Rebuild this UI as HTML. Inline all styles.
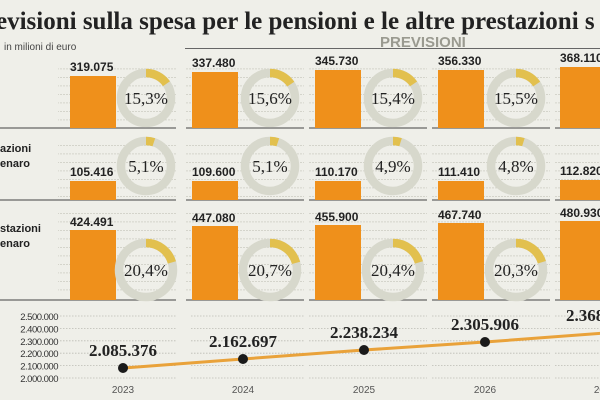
<!DOCTYPE html>
<html><head><meta charset="utf-8"><style>
html,body{margin:0;padding:0;background:#efefe9;}
svg{display:block}
.v{font-size:12px;font-weight:bold;fill:#222}
.p{font-size:17px;font-family:"Liberation Serif",serif;fill:#222;text-anchor:middle}
.g{fill:none;stroke:#d7d8cc;stroke-width:8.5}
.y{fill:none;stroke:#e2c04e;stroke-width:8.5}
.b{fill:#ef901b}
.bl{stroke:#666;stroke-width:1.2}
.yl{font-size:9.5px;fill:#333;text-anchor:end;letter-spacing:-0.5px}
.lv{font-size:17px;font-weight:bold;font-family:"Liberation Serif",serif;fill:#222;text-anchor:middle}
.yr{font-size:10px;fill:#555;text-anchor:middle}
</style></head><body>
<svg width="600" height="400" xmlns="http://www.w3.org/2000/svg" font-family="Liberation Sans, sans-serif">
<defs>
<pattern id="gp" patternUnits="userSpaceOnUse" x="0" y="0.5" width="3" height="8.5"><rect x="0" y="0" width="2" height="0.8" fill="#cdcdc4"/></pattern>
</defs>
<rect width="600" height="400" fill="#efefe9"/>
<text x="-4" y="29" font-family="Liberation Serif, serif" font-weight="bold" font-size="25" fill="#222">evisioni sulla spesa per le pensioni e le altre prestazioni s</text>
<line x1="185" y1="48.5" x2="600" y2="48.5" stroke="#666" stroke-width="1"/>
<text x="380" y="47" font-weight="bold" font-size="15" fill="#9a9a90">PREVISIONI</text>
<text x="4" y="50" font-size="10" fill="#444">in milioni di euro</text>
<text x="0" y="152" font-size="11" font-weight="bold" fill="#222">azioni</text>
<text x="0" y="167" font-size="11" font-weight="bold" fill="#222">enaro</text>
<text x="0" y="232" font-size="11" font-weight="bold" fill="#222">stazioni</text>
<text x="0" y="247" font-size="11" font-weight="bold" fill="#222">enaro</text>

<g fill="url(#gp)">
<rect x="58" y="62" width="118" height="64"/><rect x="186" y="62" width="118" height="64"/><rect x="309" y="62" width="118" height="64"/><rect x="432" y="62" width="118" height="64"/><rect x="555" y="62" width="45" height="64"/>
<rect x="58" y="138" width="118" height="60"/><rect x="186" y="138" width="118" height="60"/><rect x="309" y="138" width="118" height="60"/><rect x="432" y="138" width="118" height="60"/><rect x="555" y="138" width="45" height="60"/>
<rect x="58" y="210" width="118" height="88"/><rect x="186" y="210" width="118" height="88"/><rect x="309" y="210" width="118" height="88"/><rect x="432" y="210" width="118" height="88"/><rect x="555" y="210" width="45" height="88"/>
</g>
<g class="bl">
<line x1="0" x2="176" y1="128" y2="128"/><line x1="186" x2="304" y1="128" y2="128"/><line x1="309" x2="427" y1="128" y2="128"/><line x1="432" x2="550" y1="128" y2="128"/><line x1="555" x2="600" y1="128" y2="128"/>
<line x1="0" x2="176" y1="200" y2="200"/><line x1="186" x2="304" y1="200" y2="200"/><line x1="309" x2="427" y1="200" y2="200"/><line x1="432" x2="550" y1="200" y2="200"/><line x1="555" x2="600" y1="200" y2="200"/>
<line x1="0" x2="176" y1="300" y2="300"/><line x1="186" x2="304" y1="300" y2="300"/><line x1="309" x2="427" y1="300" y2="300"/><line x1="432" x2="550" y1="300" y2="300"/><line x1="555" x2="600" y1="300" y2="300"/>
</g>

<rect class="b" x="70" y="76" width="46" height="52"/><text class="v" x="70" y="71">319.075</text>
<rect class="b" x="192" y="72" width="46" height="56"/><text class="v" x="192" y="67">337.480</text>
<rect class="b" x="315" y="70" width="46" height="58"/><text class="v" x="315" y="65">345.730</text>
<rect class="b" x="438" y="70" width="46" height="58"/><text class="v" x="438" y="65">356.330</text>
<rect class="b" x="560" y="67" width="46" height="61"/><text class="v" x="560" y="62">368.110</text>
<circle class="g" cx="146" cy="98" r="25"/><circle class="y" cx="146" cy="98" r="25" stroke-dasharray="24.03 200" transform="rotate(-90 146 98)"/><text class="p" x="146" y="104">15,3%</text>
<circle class="g" cx="270" cy="98" r="25"/><circle class="y" cx="270" cy="98" r="25" stroke-dasharray="24.5 200" transform="rotate(-90 270 98)"/><text class="p" x="270" y="104">15,6%</text>
<circle class="g" cx="393" cy="98" r="25"/><circle class="y" cx="393" cy="98" r="25" stroke-dasharray="24.19 200" transform="rotate(-90 393 98)"/><text class="p" x="393" y="104">15,4%</text>
<circle class="g" cx="516" cy="98" r="25"/><circle class="y" cx="516" cy="98" r="25" stroke-dasharray="24.35 200" transform="rotate(-90 516 98)"/><text class="p" x="516" y="104">15,5%</text>

<rect class="b" x="70" y="181" width="46" height="19"/><text class="v" x="70" y="176">105.416</text>
<rect class="b" x="192" y="181" width="46" height="19"/><text class="v" x="192" y="176">109.600</text>
<rect class="b" x="315" y="181" width="46" height="19"/><text class="v" x="315" y="176">110.170</text>
<rect class="b" x="438" y="181" width="46" height="19"/><text class="v" x="438" y="176">111.410</text>
<rect class="b" x="560" y="180" width="46" height="20"/><text class="v" x="560" y="175">112.820</text>
<circle class="g" cx="146" cy="166" r="25"/><circle class="y" cx="146" cy="166" r="25" stroke-dasharray="8.01 200" transform="rotate(-90 146 166)"/><text class="p" x="146" y="172">5,1%</text>
<circle class="g" cx="270" cy="166" r="25"/><circle class="y" cx="270" cy="166" r="25" stroke-dasharray="8.01 200" transform="rotate(-90 270 166)"/><text class="p" x="270" y="172">5,1%</text>
<circle class="g" cx="393" cy="166" r="25"/><circle class="y" cx="393" cy="166" r="25" stroke-dasharray="7.7 200" transform="rotate(-90 393 166)"/><text class="p" x="393" y="172">4,9%</text>
<circle class="g" cx="516" cy="166" r="25"/><circle class="y" cx="516" cy="166" r="25" stroke-dasharray="7.54 200" transform="rotate(-90 516 166)"/><text class="p" x="516" y="172">4,8%</text>

<rect class="b" x="70" y="230" width="46" height="70"/><text class="v" x="70" y="226">424.491</text>
<rect class="b" x="192" y="226" width="46" height="74"/><text class="v" x="192" y="222">447.080</text>
<rect class="b" x="315" y="225" width="46" height="75"/><text class="v" x="315" y="221">455.900</text>
<rect class="b" x="438" y="223" width="46" height="77"/><text class="v" x="438" y="219">467.740</text>
<rect class="b" x="560" y="221" width="46" height="79"/><text class="v" x="560" y="217">480.930</text>
<circle class="g" cx="146" cy="270" r="27"/><circle class="y" cx="146" cy="270" r="27" stroke-dasharray="34.61 200" transform="rotate(-90 146 270)"/><text class="p" x="146" y="276">20,4%</text>
<circle class="g" cx="270" cy="270" r="27"/><circle class="y" cx="270" cy="270" r="27" stroke-dasharray="35.12 200" transform="rotate(-90 270 270)"/><text class="p" x="270" y="276">20,7%</text>
<circle class="g" cx="393" cy="270" r="27"/><circle class="y" cx="393" cy="270" r="27" stroke-dasharray="34.61 200" transform="rotate(-90 393 270)"/><text class="p" x="393" y="276">20,4%</text>
<circle class="g" cx="516" cy="270" r="27"/><circle class="y" cx="516" cy="270" r="27" stroke-dasharray="34.44 200" transform="rotate(-90 516 270)"/><text class="p" x="516" y="276">20,3%</text>

<g class="yl">
<text x="58" y="320">2.500.000</text><text x="58" y="332.4">2.400.000</text><text x="58" y="344.8">2.300.000</text><text x="58" y="357.2">2.200.000</text><text x="58" y="369.6">2.100.000</text><text x="58" y="382">2.000.000</text>
</g>
<g stroke="#bcbcb4" stroke-width="0.8" stroke-dasharray="1.5,1.5">
<path d="M60 316H176M191 316H304M309 316H427M432 316H550M555 316H600"/>
<path d="M60 328.4H176M191 328.4H304M309 328.4H427M432 328.4H550M555 328.4H600"/>
<path d="M60 340.8H176M191 340.8H304M309 340.8H427M432 340.8H550M555 340.8H600"/>
<path d="M60 353.2H176M191 353.2H304M309 353.2H427M432 353.2H550M555 353.2H600"/>
<path d="M60 365.6H176M191 365.6H304M309 365.6H427M432 365.6H550M555 365.6H600"/>
<path d="M60 378H176M191 378H304M309 378H427M432 378H550M555 378H600"/>
</g>
<polyline points="123,368 243,359 364,350 485,342 605,333" fill="none" stroke="#e9a23a" stroke-width="3"/>
<g fill="#1a1a1a">
<circle cx="123" cy="368" r="5"/><circle cx="243" cy="359" r="5"/><circle cx="364" cy="350" r="5"/><circle cx="485" cy="342" r="5"/>
</g>
<text class="lv" x="123" y="356">2.085.376</text>
<text class="lv" x="243" y="347">2.162.697</text>
<text class="lv" x="364" y="338">2.238.234</text>
<text class="lv" x="485" y="330">2.305.906</text>
<text class="lv" x="600" y="321">2.368.000</text>
<text class="yr" x="123" y="393">2023</text><text class="yr" x="243" y="393">2024</text><text class="yr" x="364" y="393">2025</text><text class="yr" x="485" y="393">2026</text><text class="yr" x="605" y="393">2027</text>
</svg>
</body></html>
